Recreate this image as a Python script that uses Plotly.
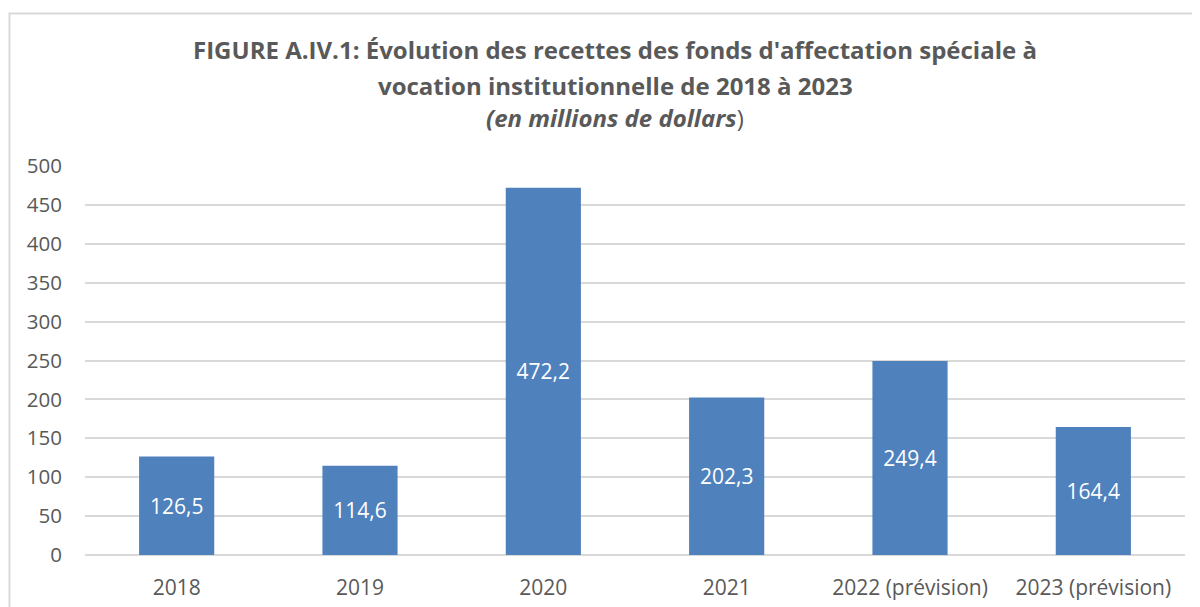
import plotly.graph_objects as go

categories = ["2018", "2019", "2020", "2021", "2022 (prévision)", "2023 (prévision)"]
values = [126.5, 114.6, 472.2, 202.3, 249.4, 164.4]
labels = [f"{v:.1f}".replace(".", ",") for v in values]
y_ticks = list(range(0, 501, 50))

FONT = "Open Sans"
GREY = "#595959"

# page has an 8px body margin; positions below are in screen pixels
OFF = 8
W, H = 1200 - OFF, 607 - OFF
L = 85 - OFF
T = 166 - OFF
R = W - (1185 - OFF)
B = H - (555 - OFF)
pw, ph = W - L - R, H - T - B

def px(x):
    return (x - OFF - L) / pw

def py(y):
    return (H - B - (y - OFF)) / ph

fig = go.Figure(go.Bar(
    x=categories, y=values, text=labels, textposition="inside",
    insidetextanchor="middle", textangle=0,
    textfont=dict(family=FONT, size=21, color="white"),
    marker=dict(color="#4F81BD", line=dict(width=0)),
    hoverinfo="x+y",
))

fig.update_layout(
    width=W, height=H,
    margin=dict(l=L, r=R, t=T, b=B),
    paper_bgcolor="white", plot_bgcolor="white",
    bargap=0.59, showlegend=False,
    font=dict(family=FONT, color=GREY),
    xaxis=dict(showgrid=False, ticks="outside", ticklen=14, tickcolor="rgba(0,0,0,0)",
               tickfont=dict(family=FONT, size=21, color=GREY), showline=False,
               automargin=False),
    yaxis=dict(range=[0, 500], tickvals=y_ticks, showgrid=True, gridcolor="#D9D9D9",
               gridwidth=1.5, zeroline=True, zerolinecolor="#D9D9D9", zerolinewidth=1.5,
               ticks="outside", ticklen=18, tickcolor="rgba(0,0,0,0)",
               tickfont=dict(family=FONT, size=20.5, color=GREY), automargin=False),
    annotations=[
        dict(text="<b>FIGURE A.IV.1: Évolution des recettes des fonds d'affectation spéciale à</b>",
             x=px(615), y=py(50), xref="paper", yref="paper", showarrow=False,
             font=dict(family=FONT, size=24, color=GREY), xanchor="center", yanchor="middle"),
        dict(text="<b>vocation institutionnelle de 2018 à 2023</b>",
             x=px(615), y=py(85), xref="paper", yref="paper", showarrow=False,
             font=dict(family=FONT, size=24, color=GREY), xanchor="center", yanchor="middle"),
        dict(text="<b><i>(en millions de dollars</i></b>)",
             x=px(615), y=py(117), xref="paper", yref="paper", showarrow=False,
             font=dict(family=FONT, size=24, color=GREY), xanchor="center", yanchor="middle"),
    ],
    shapes=[dict(type="rect", xref="paper", yref="paper",
                 x0=px(9.5), x1=px(1215), y0=py(620), y1=py(13.5),
                 line=dict(color="#D9D9D9", width=2), fillcolor="rgba(0,0,0,0)", layer="below")],
)

fig.write_html("out.html")
